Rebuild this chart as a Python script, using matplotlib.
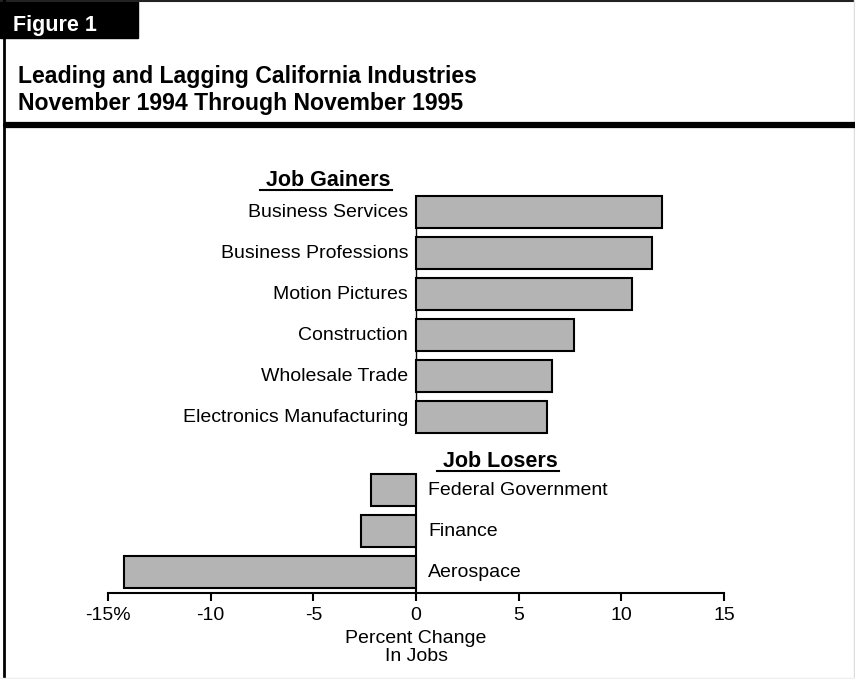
import numpy as np
import matplotlib
matplotlib.use("Agg")
import matplotlib.pyplot as plt
from matplotlib.patches import Rectangle
from matplotlib.lines import Line2D

plt.rcParams['font.family'] = ['Liberation Sans', 'DejaVu Sans']

# Percent change in jobs, Nov 1994 - Nov 1995
gainers = ["Business Services", "Business Professions", "Motion Pictures",
           "Construction", "Wholesale Trade", "Electronics Manufacturing"]
gain_pct = [12.0, 11.5, 10.5, 7.7, 6.6, 6.4]

losers = ["Federal Government", "Finance", "Aerospace"]
loss_pct = [-2.2, -2.7, -14.2]

xticks = [-15, -10, -5, 0, 5, 10, 15]
xticklabels = ["-15%", "-10", "-5", "0", "5", "10", "15"]

W, H = 855, 679
fig = plt.figure(figsize=(W / 100, H / 100), dpi=100)

# page decoration drawn in pixel coordinates
deco = fig.add_axes([0, 0, 1, 1])
deco.set_xlim(0, W)
deco.set_ylim(H, 0)
deco.axis('off')
deco.add_patch(Rectangle((0, 0), 138, 38, color='black'))
deco.add_line(Line2D([0, W], [1, 1], color='#222222', lw=1.5))
deco.add_line(Line2D([3.5, 3.5], [0, H], color='black', lw=2))
deco.add_line(Line2D([W - 1, W - 1], [0, H], color='#dddddd', lw=1))
deco.add_line(Line2D([0, W], [H - 1, H - 1], color='#eeeeee', lw=1))
deco.add_line(Line2D([6, W], [125, 125], color='black', lw=4.5,
                     solid_capstyle='round'))
deco.text(13, 25, "Figure 1", color='white', fontsize=15.5, fontweight='bold',
          va='center', ha='left')
deco.text(18, 83, "Leading and Lagging California Industries",
          fontsize=16.6, fontweight='bold', va='baseline')
deco.text(18, 110, "November 1994 Through November 1995",
          fontsize=16.6, fontweight='bold', va='baseline')

# bar chart
ax = fig.add_axes([108 / W, 86 / H, 616 / W, 403 / H])
h = 0.78
gain_y = np.arange(len(gainers))
loss_y = np.arange(len(losers)) + len(gainers) + 0.78
ybottom = loss_y[-1] + 0.51
ax.set_ylim(ybottom, gain_y[0] - 0.54)
ax.set_xlim(-15, 15)

ax.vlines(0, gain_y[0] - h / 2, gain_y[-1] + h / 2, color='black', lw=1, zorder=1)
ax.vlines(0, loss_y[0] - h / 2, ybottom, color='black', lw=1.5, zorder=1)
ax.barh(gain_y, gain_pct, height=h, color='#b4b4b4', edgecolor='black',
        linewidth=1.5, zorder=2)
ax.barh(loss_y, loss_pct, height=h, color='#b4b4b4', edgecolor='black',
        linewidth=1.5, zorder=2)

for y, name in zip(gain_y, gainers):
    ax.annotate(name, (0, y), xytext=(-8, 0), textcoords='offset pixels',
                ha='right', va='center', fontsize=14)
for y, name in zip(loss_y, losers):
    ax.annotate(name, (0, y), xytext=(12, 0), textcoords='offset pixels',
                ha='left', va='center', fontsize=14)

for s in ['left', 'top', 'right']:
    ax.spines[s].set_visible(False)
ax.spines['bottom'].set_linewidth(1.5)
ax.spines['bottom'].set_bounds(-15, 15)
ax.set_yticks([])
ax.set_xticks(xticks)
ax.set_xticklabels(xticklabels)
ax.tick_params(axis='x', direction='out', length=5.5, width=1.5,
               labelsize=14, pad=4.5)
ax.patch.set_visible(False)

deco.text(416, 643, "Percent Change", fontsize=14, ha='center', va='baseline')
deco.text(416, 661, "In Jobs", fontsize=14, ha='center', va='baseline')

# underlined section headers
headers = [deco.text(325, 186, " Job Gainers", fontsize=15.5, fontweight='bold',
                     ha='center', va='baseline'),
           deco.text(497, 467, " Job Losers", fontsize=15.5, fontweight='bold',
                     ha='center', va='baseline')]
fig.canvas.draw()
renderer = fig.canvas.get_renderer()
inv = deco.transData.inverted()
for t in headers:
    bb = t.get_window_extent(renderer)
    (x0, _), (x1, _) = inv.transform([[bb.x0, bb.y0], [bb.x1, bb.y1]])
    ybase = t.get_position()[1] + 3.5
    deco.add_line(Line2D([x0, x1 + 2], [ybase, ybase], color='black', lw=1.5))

fig.savefig("out.png", dpi=100)
